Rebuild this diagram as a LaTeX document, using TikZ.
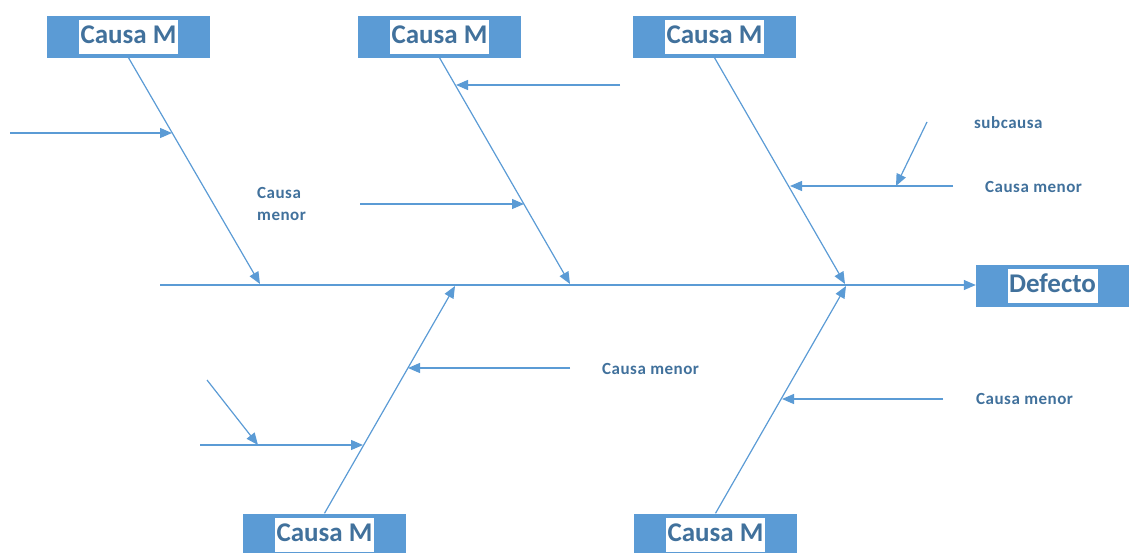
\documentclass[tikz,border=0pt]{standalone}
\usepackage{fontspec}
\setmainfont{Carlito}
\newfontfamily\labelfont{Carlito}[LetterSpace=3]
\usetikzlibrary{arrows.meta}
\definecolor{boneblue}{HTML}{5B9BD5}
\definecolor{labelblue}{HTML}{41719C}
\newcommand{\boxtext}[1]{{\setlength{\fboxsep}{1.5pt}\colorbox{white}{\rule[-9pt]{0pt}{31pt}#1}}}
\begin{document}
\begin{tikzpicture}[x=1pt,y=-1pt,
  bone/.style={draw=boneblue,line width=1.2pt,-{Triangle[length=12pt,width=10pt]}},
  causebox/.style={fill=boneblue,minimum width=163pt,minimum height=42pt,inner sep=0pt,
    text=labelblue,font=\fontsize{27}{30}\selectfont\bfseries},
  minor/.style={text=labelblue,font=\labelfont\fontsize{17}{22}\selectfont\bfseries,inner sep=0pt}]
\useasboundingbox (0,0) rectangle (1130,552);

% category boxes
\node[causebox] (c1) at (128.5,36.5) {\boxtext{Causa M}};
\node[causebox] (c2) at (439.5,36.5) {\boxtext{Causa M}};
\node[causebox] (c3) at (714.5,36.5) {\boxtext{Causa M}};
\node[causebox] (c4) at (324.5,534.5) {\boxtext{Causa M}};
\node[causebox] (c5) at (715.5,534.5) {\boxtext{Causa M}};
\node[causebox,minimum width=153pt] (def) at (1052.5,286) {\boxtext{Defecto}};

% spine
\coordinate (tail) at (160,285);
\draw[bone] (tail) -- (tail -| def.west);

% main bones, each from its box down/up to the spine
\coordinate (s1) at (260,284);
\coordinate (s2) at (570,284);
\coordinate (s3) at (845,284);
\coordinate (s4) at (455,286);
\coordinate (s5) at (846,286);
\draw[bone] (c1.south) -- (s1);
\draw[bone] (c2.south) -- (s2);
\draw[bone] (c3.south) -- (s3);
\draw[bone] (c4.north) -- (s4);
\draw[bone] (c5.north) -- (s5);

% minor causes
\coordinate (m1s) at (10,133);   \coordinate (m1e) at (172,133);
\coordinate (m2s) at (620,85);   \coordinate (m2e) at (456,85);
\coordinate (m3s) at (360,204);  \coordinate (m3e) at (524,204);
\coordinate (m4s) at (953,186);  \coordinate (m4e) at (790,186);
\coordinate (m5s) at (570,368);  \coordinate (m5e) at (408,368);
\coordinate (m6s) at (200,445);  \coordinate (m6e) at (363,445);
\coordinate (m7s) at (943,399);  \coordinate (m7e) at (782,399);
\draw[bone] (m1s) -- (m1e);
\draw[bone] (m2s) -- (m2e);
\draw[bone] (m3s) -- (m3e);
\draw[bone] (m4s) -- (m4e);
\draw[bone] (m5s) -- (m5e);
\draw[bone] (m6s) -- (m6e);
\draw[bone] (m7s) -- (m7e);

% sub-causes
\coordinate (u1s) at (927,122);  \coordinate (u1e) at (896,186);
\coordinate (u2s) at (207,380);  \coordinate (u2e) at (258,445);
\draw[bone] (u1s) -- (u1e);
\draw[bone] (u2s) -- (u2e);

% labels
\node[minor,anchor=west,align=left] (l1) at (257,204) {Causa\\menor};
\node[minor,anchor=west] (l2) at (974,123) {subcausa};
\node[minor,anchor=west] (l3) at (985,187) {Causa menor};
\node[minor,anchor=west] (l4) at (602,369) {Causa menor};
\node[minor,anchor=west] (l5) at (976,399) {Causa menor};
\end{tikzpicture}
\end{document}
